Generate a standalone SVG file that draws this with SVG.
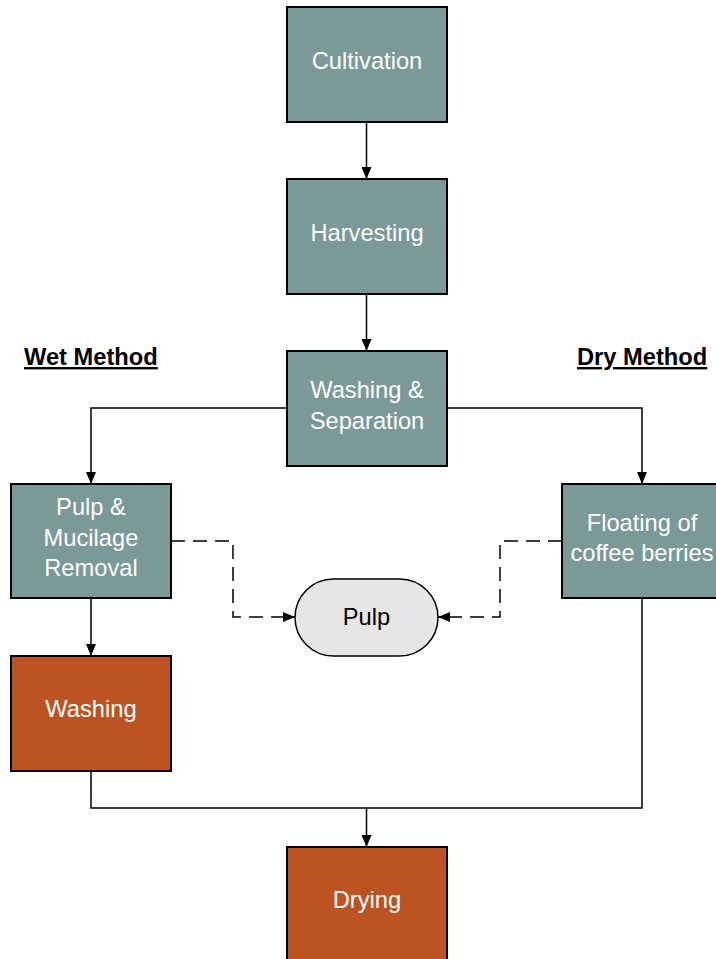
<svg xmlns="http://www.w3.org/2000/svg" width="716" height="959" viewBox="0 0 716 959">
<defs>
<style>
.box{stroke:#000;stroke-width:2}
.teal{fill:#7a9997}
.orange{fill:#bb5322}
.lbl{font-family:"Liberation Sans",Arial,sans-serif;font-size:23.7px;fill:#fff;text-anchor:middle}
.dark{fill:#000}
.head{font-family:"Liberation Sans",Arial,sans-serif;font-size:23.7px;font-weight:bold;fill:#000;text-decoration:underline}
.ln{fill:none;stroke:#000;stroke-width:1.5}
.dash{stroke-dasharray:14 8}
</style>
<marker id="arrL" viewBox="0 0 12 10" refX="12" refY="5" markerWidth="12" markerHeight="10" markerUnits="userSpaceOnUse" orient="auto">
<path d="M0,0 L12,5 L0,10 z" fill="#000"/>
</marker>
</defs>
<rect width="716" height="959" fill="#fff"/>
<g id="connectors">
<path class="ln" d="M366.5,122 V179" marker-end="url(#arrL)"/>
<path class="ln" d="M366.5,294 V351" marker-end="url(#arrL)"/>
<path class="ln" d="M287,408 H91 V484" marker-end="url(#arrL)"/>
<path class="ln" d="M447,408 H642 V484" marker-end="url(#arrL)"/>
<path class="ln" d="M91,598 V656" marker-end="url(#arrL)"/>
<path class="ln" d="M91,771 V808 H642 V598"/>
<path class="ln" d="M366.5,808 V847" marker-end="url(#arrL)"/>
<path class="ln dash" d="M171,541 H233 V617 H295" marker-end="url(#arrL)"/>
<path class="ln dash" d="M562,541 H500 V617 H438" marker-end="url(#arrL)"/>
</g>
<g id="wet-label"><text class="head" x="24" y="365">Wet Method</text></g>
<g id="dry-label"><text class="head" x="577" y="365">Dry Method</text></g>
<g id="cultivation">
<rect class="box teal" x="287" y="7" width="160" height="115"/>
<text class="lbl" x="367" y="69">Cultivation</text>
</g>
<g id="harvesting">
<rect class="box teal" x="287" y="179" width="160" height="115"/>
<text class="lbl" x="367" y="241">Harvesting</text>
</g>
<g id="washing-separation">
<rect class="box teal" x="287" y="351" width="160" height="115"/>
<text class="lbl" x="367" y="398">Washing &amp;</text>
<text class="lbl" x="367" y="429">Separation</text>
</g>
<g id="pulp-removal">
<rect class="box teal" x="11" y="484" width="160" height="114"/>
<text class="lbl" x="91" y="515">Pulp &amp;</text>
<text class="lbl" x="91" y="546">Mucilage</text>
<text class="lbl" x="91" y="576">Removal</text>
</g>
<g id="floating">
<rect class="box teal" x="562" y="484" width="160" height="114"/>
<text class="lbl" x="642" y="531">Floating of</text>
<text class="lbl" x="642" y="561">coffee berries</text>
</g>
<g id="pulp">
<rect x="295" y="579" width="143" height="77" rx="38.5" ry="38.5" fill="#e6e6e6" stroke="#000" stroke-width="1.5"/>
<text class="lbl dark" x="366.5" y="625">Pulp</text>
</g>
<g id="washing">
<rect class="box orange" x="11" y="656" width="160" height="115"/>
<text class="lbl" x="91" y="717">Washing</text>
</g>
<g id="drying">
<rect class="box orange" x="287" y="847" width="160" height="115"/>
<text class="lbl" x="367" y="908">Drying</text>
</g>
</svg>
